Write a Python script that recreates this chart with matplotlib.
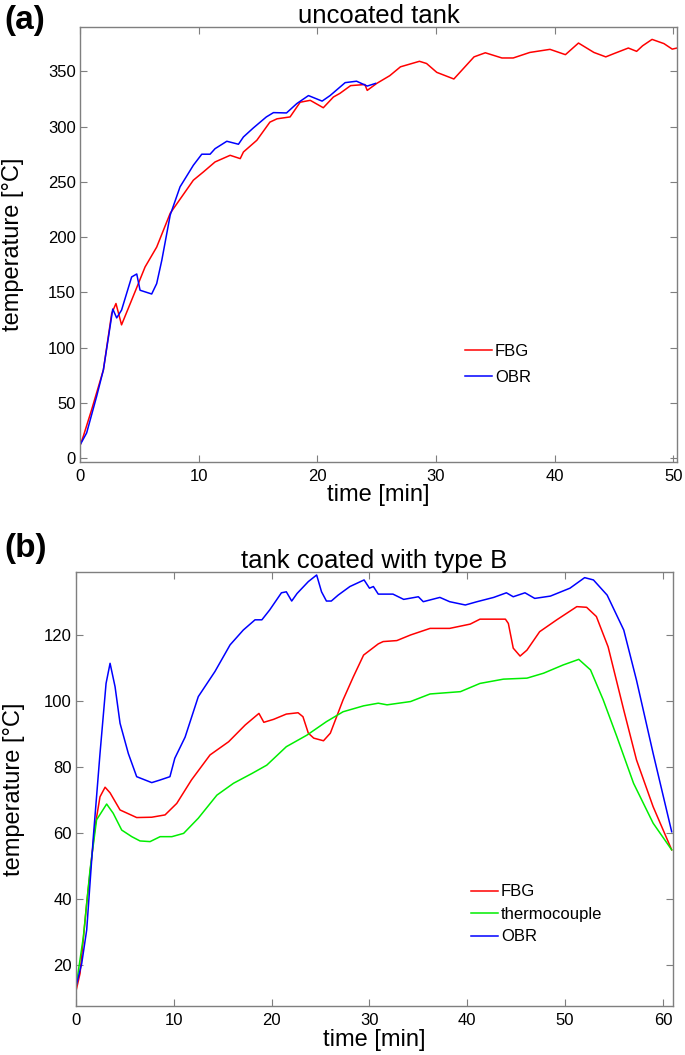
import matplotlib.pyplot as plt

plt.rcParams['font.family'] = ['Liberation Sans', 'DejaVu Sans']

# (a) uncoated tank
fbg_a_t = [0, 0.28, 0.98, 1.97, 2.67, 3.03, 3.5, 4.64, 5.48, 6.46, 7.6, 9.55, 10.4, 11.38,
           12.65, 13.5, 13.77, 14.9, 16.0, 16.6, 17.7, 18.55, 19.4, 20.5, 21.35, 21.9, 22.8,
           24.0, 24.2, 25.0, 26.1, 27.0, 28.6, 29.2, 30.06, 31.5, 33.2, 34.15, 35.55, 36.5,
           37.9, 39.6, 40.9, 42.0, 43.3, 44.3, 45.0, 46.2, 46.9, 47.4, 48.2, 49.2, 49.9, 50.3]
fbg_a_T = [11.5, 20, 44, 80, 131, 140, 120.7, 150.7, 173, 191, 221.6, 251.5, 259, 268,
           274, 271, 277, 287.6, 304, 307, 308.7, 322, 323.7, 317, 326.7, 330, 337,
           338, 332.7, 339, 346, 354, 359, 357, 349, 343, 363, 366.7, 362, 362,
           367, 369.8, 365, 375.5, 367, 363, 366, 371, 368, 373, 378.8, 375, 370, 371]

obr_a_t = [0, 0.56, 1.4, 1.97, 2.76, 3.09, 3.5, 4.35, 4.78, 5.06, 6.04, 6.46, 6.89, 7.6,
           8.43, 9.55, 10.26, 10.96, 11.38, 12.37, 13.35, 13.77, 14.6, 15.7, 16.3, 17.4,
           18.27, 19.25, 20.4, 21.07, 22.34, 23.3, 24.2, 24.9]
obr_a_T = [12, 23, 56, 80, 135, 127, 134, 164, 166.7, 152, 148.6, 158, 179, 220,
           245.5, 265, 275, 275, 280, 286.7, 284, 290.6, 298.7, 308.7, 312.6, 312.3,
           320.8, 328, 323, 328, 339.7, 341, 336.6, 339]

# (b) tank coated with type B
fbg_b_t = [0, 0.41, 1.09, 1.94, 2.45, 2.97, 3.48, 4.5, 6.2, 7.74, 9.1, 10.3, 11.8, 13.7,
           15.6, 17.3, 18.7, 19.2, 20.2, 21.5, 22.7, 23.2, 23.75, 24.3, 25.3, 26.0, 27.3,
           28.35, 29.4, 30.9, 31.4, 32.8, 34.2, 36.2, 38.2, 40.3, 41.3, 43.9, 44.2, 44.7,
           45.4, 46.1, 47.4, 49.15, 51.2, 52.2, 53.2, 54.4, 56.0, 57.3, 59.0, 60.9]
fbg_b_T = [12, 17.3, 38.6, 61.8, 70.9, 73.8, 72.1, 66.9, 64.6, 64.7, 65.4, 68.9, 76, 83.6,
           87.6, 92.7, 96.2, 93.5, 94.4, 96.0, 96.4, 95.2, 90.2, 88.7, 87.9, 90.2, 100.3,
           107.3, 113.9, 117.3, 118, 118.3, 120, 122, 122, 123.3, 124.8, 124.8, 123.5, 116,
           113.6, 115.4, 121, 124.6, 128.6, 128.4, 125.6, 116.4, 97.2, 82.1, 67.9, 54.8]

tc_b_t = [0, 0.75, 1.43, 2.1, 3.13, 3.8, 4.67, 5.7, 6.54, 7.57, 8.6, 9.8, 11.0, 12.5,
          14.4, 16.1, 18.0, 19.5, 21.5, 23.6, 25.6, 27.3, 29.4, 30.9, 31.8, 34.2, 36.2,
          39.3, 41.3, 43.7, 46.1, 47.8, 49.8, 51.4, 52.6, 53.9, 55.3, 57.0, 59.0, 60.9]
tc_b_T = [13.3, 28.4, 48.7, 63.9, 68.7, 65.9, 60.8, 58.8, 57.5, 57.3, 58.8, 58.8, 59.8, 64.4,
          71.4, 75, 78, 80.5, 86.1, 89.6, 93.7, 96.7, 98.5, 99.3, 98.8, 99.8, 102.1,
          102.8, 105.3, 106.6, 106.9, 108.4, 110.9, 112.6, 109.4, 100.3, 89.1, 75, 62.9, 54.8]

obr_b_t = [0, 0.58, 1.09, 1.77, 2.45, 3.07, 3.48, 3.99, 4.5, 5.35, 6.2, 7.74, 8.6, 9.6,
           10.1, 11.15, 12.5, 14.2, 15.75, 17.1, 18.3, 19.0, 19.8, 21.0, 21.5, 22.05, 22.6,
           23.75, 24.6, 25.1, 25.6, 26.1, 26.8, 28.0, 29.45, 30.0, 30.4, 30.9, 32.4, 33.5,
           35.0, 35.5, 37.2, 38.2, 39.8, 41.0, 42.7, 44.0, 44.7, 45.9, 46.9, 48.5, 50.5,
           52.0, 52.9, 54.3, 56.0, 57.3, 59.0, 60.9]
obr_b_T = [13.3, 20.3, 30.5, 58.8, 84, 105.3, 111.4, 104.3, 93.2, 84, 77, 75.2, 76, 77,
           82.6, 89, 101.3, 108.9, 117, 121.5, 124.6, 124.6, 127.6, 132.8, 133.1, 130.3, 132.6,
           136.2, 138.2, 133.1, 130.3, 130.3, 132.1, 134.7, 136.7, 134.2, 134.7, 132.4, 132.4, 130.8,
           131.6, 130.1, 131.4, 130.1, 129.1, 130.1, 131.4, 132.8, 131.6, 132.8, 131.1, 131.8, 134.2,
           137.4, 136.7, 132.1, 121.5, 106.3, 84.1, 60.3]

fig = plt.figure(figsize=(6.85, 10.55), dpi=100)
ax1 = fig.add_axes([0.1168, 0.5624, 0.8715, 0.412])
ax2 = fig.add_axes([0.111, 0.0464, 0.871, 0.4117])


def style(ax):
    for s in ax.spines.values():
        s.set_color('#7f7f7f')
        s.set_linewidth(1.0)
    ax.tick_params(direction='in', top=True, right=True, length=5, width=0.8,
                   color='#7f7f7f', labelsize=12, labelcolor='black')
    ax.tick_params(axis='y', pad=3)
    ax.tick_params(axis='x', pad=5)


ax1.plot(fbg_a_t, fbg_a_T, color='red', lw=1.1, label='FBG')
ax1.plot(obr_a_t, obr_a_T, color='blue', lw=1.1, label='OBR')
ax1.set_xlim(0, 50.3)
ax1.set_ylim(-3, 390)
ax1.set_xticks(range(0, 51, 10))
ax1.set_yticks(range(0, 351, 50))
style(ax1)
ax1.set_title('uncoated tank', fontsize=18.5, pad=3)
ax1.set_xlabel('time [min]', fontsize=17)
ax1.set_ylabel('temperature [°C]', fontsize=17)
ax1.xaxis.set_label_coords(0.5, -0.052)
ax1.yaxis.set_label_coords(-0.093, 0.5)
ax1.legend(loc='upper left', bbox_to_anchor=(0.645, 0.271), frameon=False, fontsize=12,
           handlelength=1.6, handletextpad=0.2, labelspacing=0.65, borderpad=0, borderaxespad=0)

ax2.plot(fbg_b_t, fbg_b_T, color='red', lw=1.1, label='FBG')
ax2.plot(tc_b_t, tc_b_T, color='#00ee00', lw=1.1, label='thermocouple')
ax2.plot(obr_b_t, obr_b_T, color='blue', lw=1.1, label='OBR')
ax2.set_xlim(0, 61)
ax2.set_ylim(7.4, 139.2)
ax2.set_xticks(range(0, 61, 10))
ax2.set_yticks(range(20, 121, 20))
style(ax2)
ax2.set_title('tank coated with type B', fontsize=18.5, pad=3)
ax2.set_xlabel('time [min]', fontsize=17)
ax2.set_ylabel('temperature [°C]', fontsize=17)
ax2.xaxis.set_label_coords(0.5, -0.052)
ax2.yaxis.set_label_coords(-0.086, 0.5)
ax2.legend(loc='upper left', bbox_to_anchor=(0.662, 0.28), frameon=False, fontsize=12,
           handlelength=1.6, handletextpad=0.2, labelspacing=0.45, borderpad=0, borderaxespad=0)

fig.text(0.007, 0.995, '(a)', fontsize=24, fontweight='bold', va='top', ha='left')
fig.text(0.007, 0.495, '(b)', fontsize=24, fontweight='bold', va='top', ha='left')

fig.savefig('out.png', dpi=100)
